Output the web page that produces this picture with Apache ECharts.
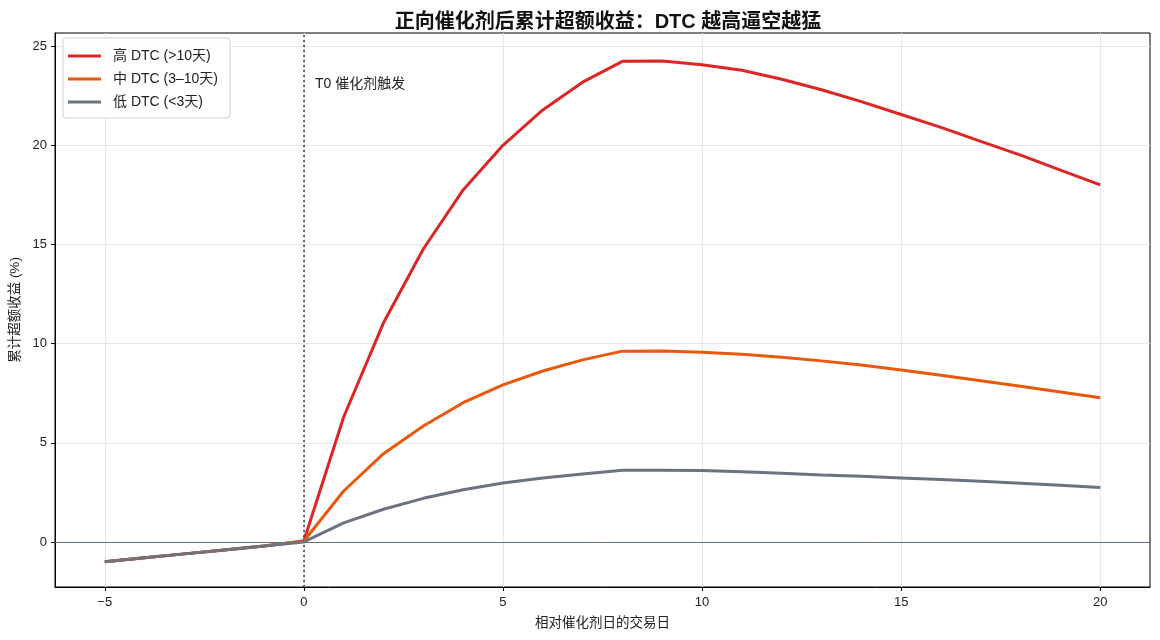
<!DOCTYPE html>
<html>
<head>
<meta charset="utf-8">
<script src="https://cdn.jsdelivr.net/npm/echarts@6/dist/echarts.min.js"></script>
<style>
  html, body { margin: 0; padding: 0; background: #fff; }
  #main { width: 1160px; height: 640px; }
</style>
</head>
<body>
<div id="main"></div>
<script>
// 交易日（相对催化剂日）
var days = [-5, -4, -3, -2, -1, 0, 1, 2, 3, 4, 5, 6, 7, 8, 9, 10, 11, 12, 13, 14, 15, 16, 17, 18, 19, 20];
var seriesNames = ['高 DTC (>10天)', '中 DTC (3–10天)', '低 DTC (<3天)'];
var highDTC = [-1.0, -0.8, -0.6, -0.4, -0.2, 0.05, 6.3, 11.05, 14.77, 17.75, 20.0, 21.78, 23.18, 24.23, 24.25, 24.06, 23.78, 23.33, 22.8, 22.2, 21.55, 20.9, 20.2, 19.5, 18.75, 18.0];
var midDTC = [-1.0, -0.8, -0.6, -0.4, -0.2, 0.05, 2.57, 4.45, 5.85, 7.02, 7.92, 8.62, 9.18, 9.62, 9.63, 9.57, 9.46, 9.31, 9.13, 8.92, 8.67, 8.4, 8.13, 7.85, 7.56, 7.27];
var lowDTC = [-1.0, -0.8, -0.6, -0.4, -0.2, 0.0, 0.96, 1.65, 2.2, 2.63, 2.97, 3.23, 3.43, 3.61, 3.61, 3.6, 3.54, 3.46, 3.38, 3.31, 3.23, 3.15, 3.06, 2.96, 2.86, 2.75];
var xTicks = [-5, 0, 5, 10, 15, 20];
var yTicks = [0, 5, 10, 15, 20, 25];
var colors = ['#dc2626', '#ea580c', '#6b7280'];

var font = "'Liberation Sans', 'Noto Sans CJK SC', sans-serif";

function pairs(ys) {
    return days.map(function (d, i) { return [d, ys[i]]; });
}

var myChart = echarts.init(document.getElementById('main'));
myChart.setOption({
    animation: false,
    textStyle: { fontFamily: font },
    title: {
        text: '正向催化剂后累计超额收益：DTC 越高逼空越猛',
        left: 603,
        textAlign: 'center',
        top: 7,
        textStyle: { fontSize: 20, fontWeight: 'bold', color: '#111', fontFamily: font }
    },
    legend: {
        left: 63,
        top: 38,
        orient: 'vertical',
        padding: [10, 12, 8, 5],
        itemGap: 7,
        itemWidth: 33,
        itemHeight: 3,
        icon: 'rect',
        borderColor: '#d0d0d0',
        borderWidth: 1,
        borderRadius: 3,
        backgroundColor: 'rgba(255,255,255,0.9)',
        textStyle: { fontSize: 14, color: '#222', lineHeight: 16, fontFamily: font, padding: [0, 0, 0, 7] },
        data: seriesNames
    },
    grid: {
        left: 55, right: 10, top: 33, bottom: 53,
        show: true, borderColor: '#000', borderWidth: 1
    },
    xAxis: {
        type: 'value',
        min: -6.25, max: 21.25,
        name: '相对催化剂日的交易日',
        nameLocation: 'middle',
        nameGap: 30,
        nameTextStyle: { fontSize: 13.5, color: '#222' },
        axisLine: { show: true, onZero: false, lineStyle: { color: '#000' } },
        axisTick: { show: true, length: 4, lineStyle: { color: '#000' }, customValues: xTicks },
        axisLabel: { fontSize: 13, color: '#222', margin: 9, customValues: xTicks,
            formatter: function (v) { return v < 0 ? '\u2212' + Math.abs(v) : String(v); } },
        splitLine: { show: true, lineStyle: { color: '#e6e6e6' } }
    },
    yAxis: {
        type: 'value',
        min: -2.27, max: 25.66,
        name: '累计超额收益 (%)',
        nameLocation: 'middle',
        nameGap: 31,
        nameTextStyle: { fontSize: 13.5, color: '#222' },
        axisLine: { show: true, onZero: false, lineStyle: { color: '#000' } },
        axisTick: { show: true, length: 4, lineStyle: { color: '#000' }, customValues: yTicks },
        axisLabel: { fontSize: 13, color: '#222', margin: 8, customValues: yTicks },
        splitLine: { show: true, lineStyle: { color: '#e6e6e6' } }
    },
    series: [
        {
            name: seriesNames[0], type: 'line', data: pairs(highDTC),
            showSymbol: false, color: colors[0], lineStyle: { width: 3 }, z: 3,
            markLine: {
                silent: true, symbol: 'none', label: { show: false },
                data: [
                    { xAxis: 0, lineStyle: { color: '#333', type: [2, 3], width: 1.5 } },
                    { yAxis: 0, lineStyle: { color: '#5b6b80', type: 'solid', width: 1 } }
                ]
            },
            markPoint: {
                symbol: 'circle', symbolSize: 0,
                label: { show: true, position: 'right', distance: 0, fontSize: 14, color: '#222',
                    formatter: 'T0 催化剂触发' },
                data: [{ coord: [0.28, 23.1] }]
            }
        },
        {
            name: seriesNames[1], type: 'line', data: pairs(midDTC),
            showSymbol: false, color: colors[1], lineStyle: { width: 3 }, z: 4
        },
        {
            name: seriesNames[2], type: 'line', data: pairs(lowDTC),
            showSymbol: false, color: colors[2], lineStyle: { width: 3 }, z: 5
        }
    ]
});
</script>
</body>
</html>
